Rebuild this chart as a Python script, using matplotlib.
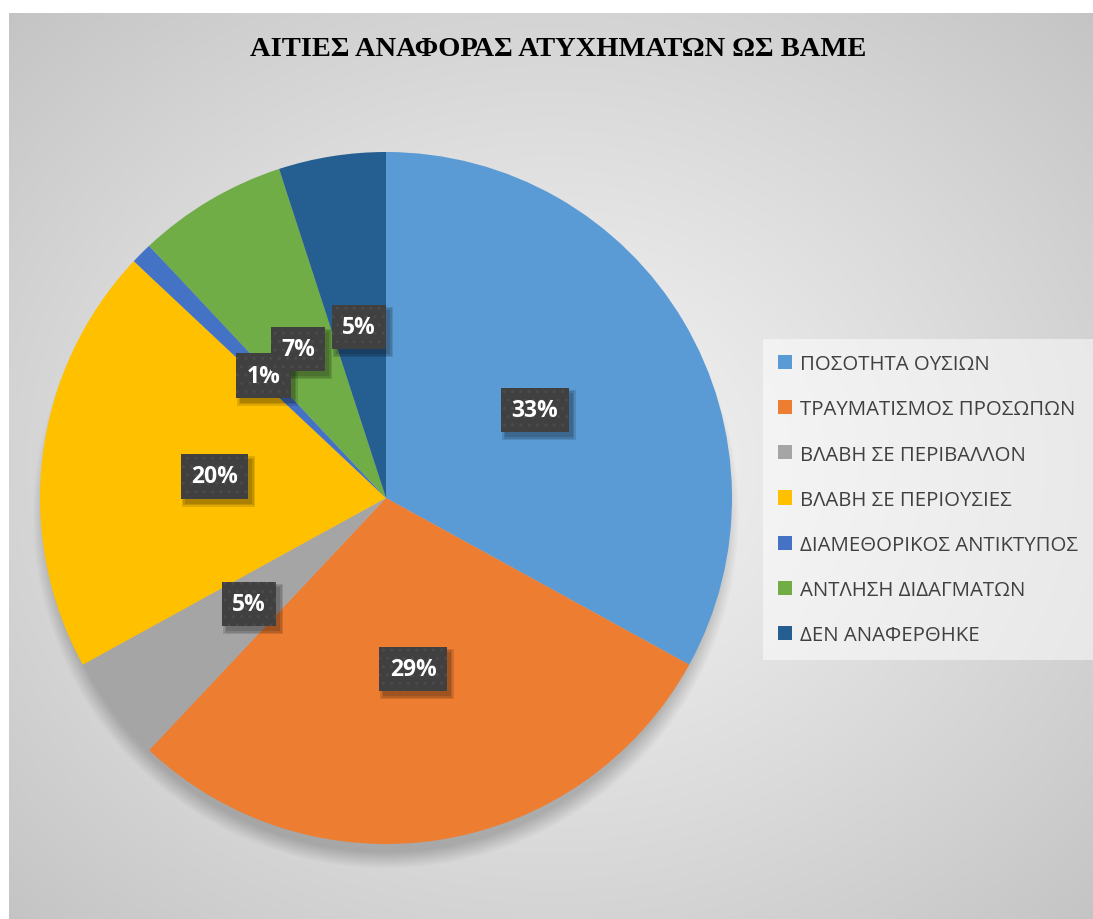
import numpy as np
import matplotlib
matplotlib.use("Agg")
import matplotlib.pyplot as plt
from matplotlib.patches import Patch, Circle, Rectangle
from matplotlib.transforms import IdentityTransform

# --- data ---
categories = [
    "ΠΟΣΟΤΗΤΑ ΟΥΣΙΩΝ",
    "ΤΡΑΥΜΑΤΙΣΜΟΣ ΠΡΟΣΩΠΩΝ",
    "ΒΛΑΒΗ ΣΕ ΠΕΡΙΒΑΛΛΟΝ",
    "ΒΛΑΒΗ ΣΕ ΠΕΡΙΟΥΣΙΕΣ",
    "ΔΙΑΜΕΘΟΡΙΚΟΣ ΑΝΤΙΚΤΥΠΟΣ",
    "ΑΝΤΛΗΣΗ ΔΙΔΑΓΜΑΤΩΝ",
    "ΔΕΝ ΑΝΑΦΕΡΘΗΚΕ",
]
shares = [33, 29, 5, 20, 1, 7, 5]
colors = ["#5B9BD5", "#ED7D31", "#A5A5A5", "#FFC000", "#4472C4", "#70AD47", "#255E91"]
title = "ΑΙΤΙΕΣ ΑΝΑΦΟΡΑΣ ΑΤΥΧΗΜΑΤΩΝ ΩΣ ΒΑΜΕ"

W, H, DPI = 1093, 920, 100
fig = plt.figure(figsize=(W / DPI, H / DPI), dpi=DPI)
fig.patch.set_facecolor("white")

# --- radial gradient panel ---
px0, py0 = 9, 14
bg = fig.add_axes([px0 / W, 0, 1 - px0 / W, 1 - py0 / H])
bg.set_axis_off()
nx, ny = 400, 340
xs = np.linspace(-1, 1, nx)
ys = np.linspace(-1, 1, ny)
X, Y = np.meshgrid(xs, ys)
R = np.sqrt(X ** 2 + Y ** 2) / np.sqrt(2)
val = 0.955 - (0.955 - 0.77) * R ** 1.15
img = np.dstack([val, val, val])
bg.imshow(img, extent=[0, 1, 0, 1], aspect="auto", interpolation="bilinear")
bg.set_xlim(0, 1)
bg.set_ylim(0, 1)

# --- pie ---
cx, cy, rad = 386, 499, 346
ax = fig.add_axes([(cx - rad) / W, (H - cy - rad) / H, 2 * rad / W, 2 * rad / H])
ax.set_axis_off()

# soft drop shadow below the pie
for i in range(16):
    r = 0.97 + 0.05 * (1 - i / 16)
    ax.add_patch(Circle((0.0, -0.05), r, facecolor="black", edgecolor="none",
                        alpha=0.012, zorder=0, clip_on=False))

wedges, _ = ax.pie(shares, colors=colors, startangle=90, counterclock=False,
                   radius=1.0, wedgeprops=dict(linewidth=0, zorder=2))
ax.set_xlim(-1, 1)
ax.set_ylim(-1, 1)
ax.set_aspect("equal")

# data labels at half radius: dark dotted boxes
labels = []
for k, (w, v) in enumerate(zip(wedges, shares)):
    ang = np.deg2rad((w.theta1 + w.theta2) / 2)
    lx, ly = 0.5 * np.cos(ang), 0.5 * np.sin(ang)
    t = ax.text(lx, ly, f"{v}%", ha="center", va="center", fontsize=16.5,
                fontweight="bold", family="Open Sans", color="white",
                bbox=dict(boxstyle="square,pad=0.45", facecolor="#404040",
                          edgecolor="#4b4b4b", linewidth=0, hatch=".."),
                zorder=4 + 0.01 * k)
    labels.append(t)

# soft drop shadows behind the label boxes
fig.canvas.draw()
renderer = fig.canvas.get_renderer()
for k, t in enumerate(labels):
    bb = t.get_bbox_patch().get_window_extent(renderer)
    for grow in [3, 1.5, 0]:
        ax.add_patch(Rectangle((bb.x0 + 4 - grow, bb.y0 - 5 - grow),
                               bb.width + 2 * grow, bb.height + 2 * grow,
                               transform=IdentityTransform(), facecolor="black",
                               edgecolor="none", alpha=0.12, zorder=3.9 + 0.01 * k,
                               clip_on=False))

# --- title ---
fig.text(558 / W, 1 - 50 / H, title, ha="center", va="center",
         family="Liberation Serif", fontweight="bold", fontsize=20.5, color="black")

# --- legend ---
handles = [Patch(facecolor=c, edgecolor="none") for c in colors]
leg = fig.legend(handles, categories, loc="upper left",
                 bbox_to_anchor=(763 / W, 1 - 340 / H),
                 frameon=True, fancybox=False, framealpha=0.5, facecolor="white",
                 edgecolor="none", prop=dict(family="Open Sans", size=14.7),
                 handlelength=0.68, handleheight=0.68, handletextpad=0.4,
                 labelspacing=1.23, borderpad=0.75, borderaxespad=0)
for t in leg.get_texts():
    t.set_color("#404040")

fig.savefig("out.png", dpi=DPI)
